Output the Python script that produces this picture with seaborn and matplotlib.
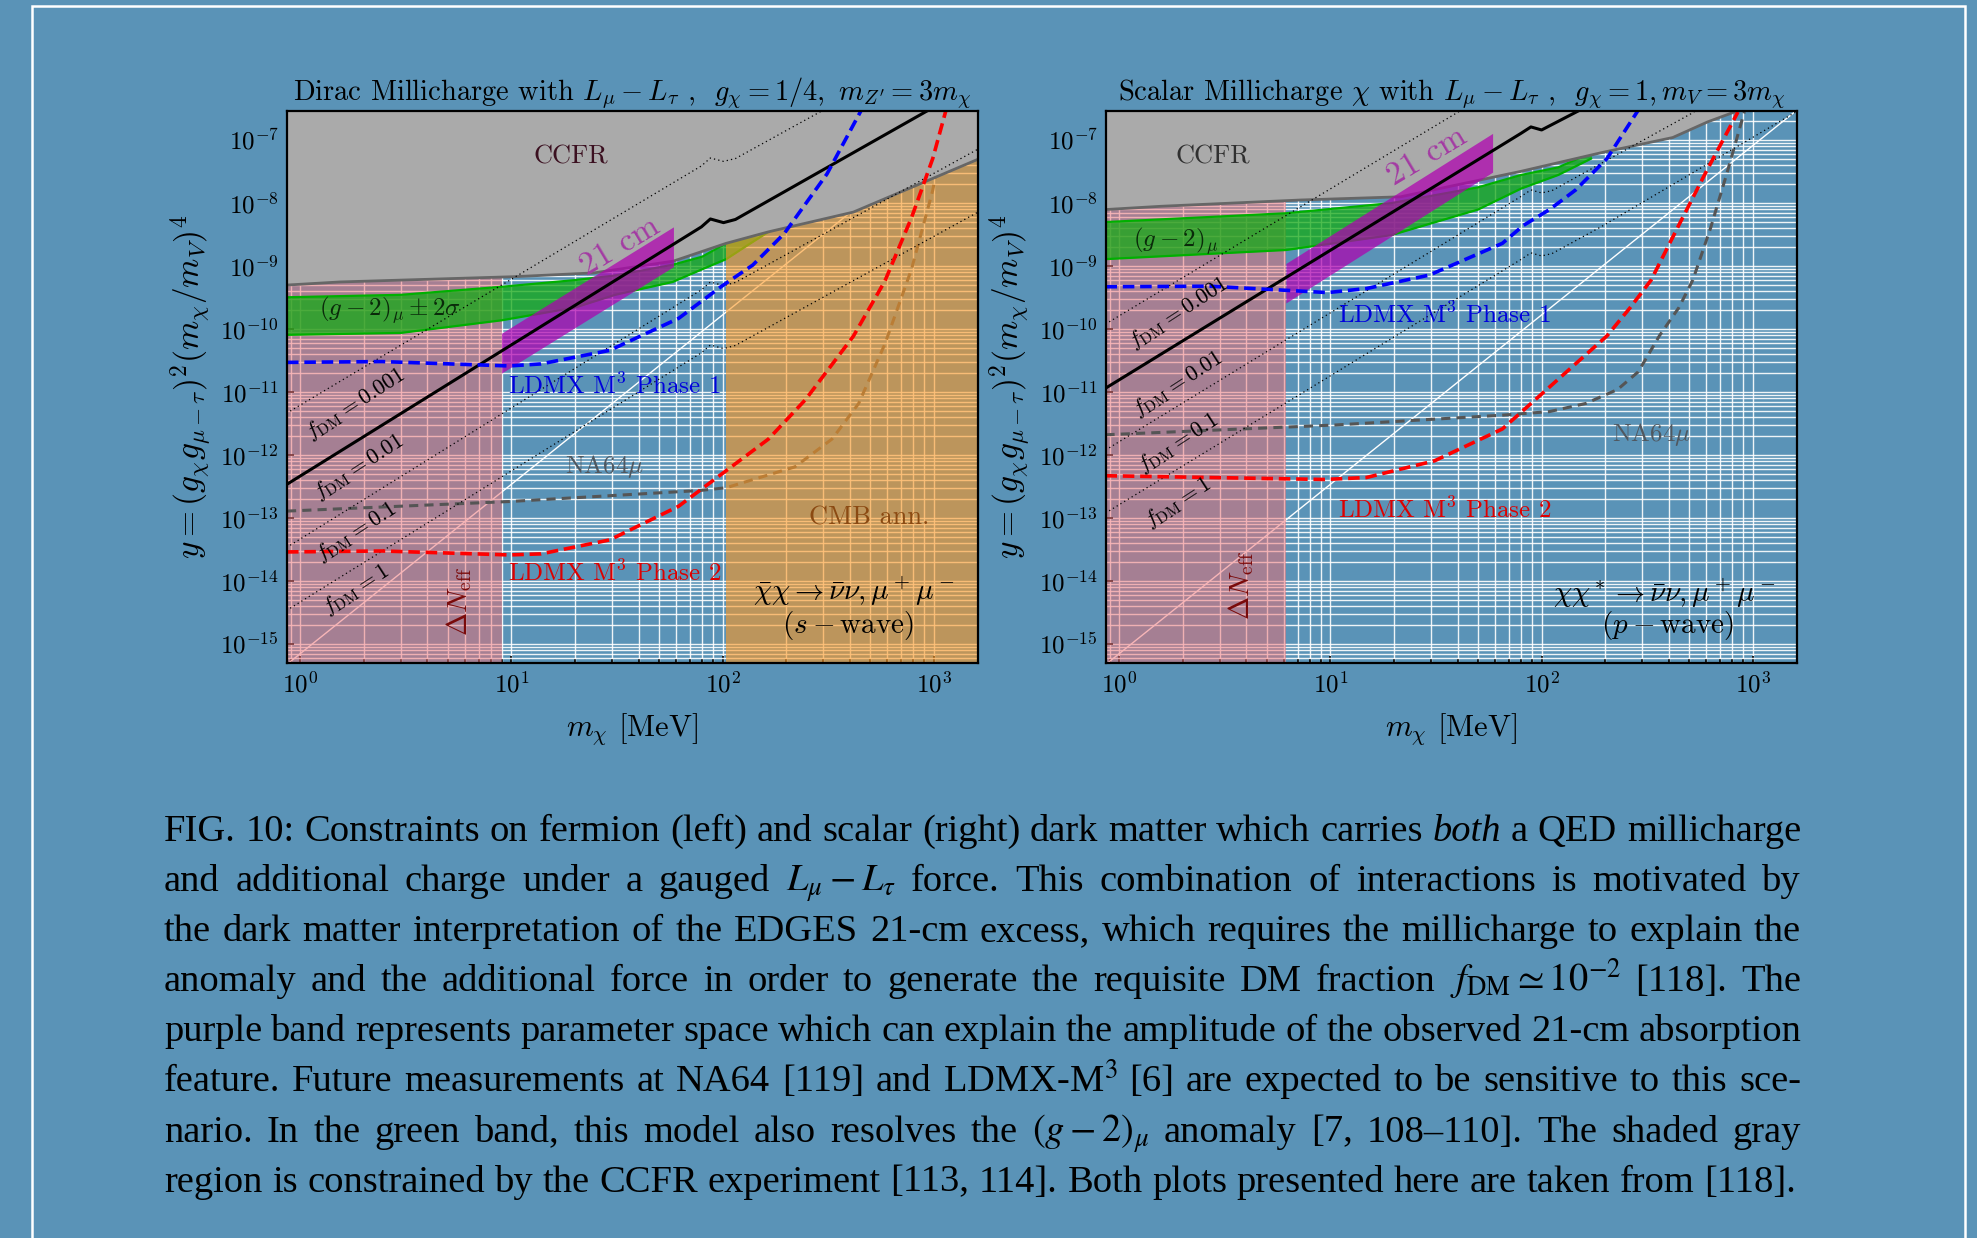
import re
import numpy as np
import pandas as pd
import matplotlib
matplotlib.use("Agg")
import matplotlib.pyplot as plt
import matplotlib.ticker as mticker
from matplotlib.patches import Rectangle
import seaborn as sns

# ---------- values (m_chi in MeV) ----------
# left panel : Dirac millicharge
dirac_ccfr_m = [0.86, 1.54, 10.4, 24.6, 58.5, 104, 165, 416, 1650]
dirac_ccfr_y = [5.0e-10, 5.6e-10, 6.8e-10, 7.8e-10, 1.2e-9, 2.3e-9, 3.5e-9, 7.2e-9, 5.1e-8]
dirac_g2_m = [0.86, 3, 9, 20, 31, 58, 80, 104, 130, 165]
dirac_g2_hi = [3.2e-10, 3.5e-10, 4.7e-10, 6.0e-10, 7.1e-10, 1.05e-9, 1.41e-9, 2.3e-9, 3.2e-9, 5.0e-9]
dirac_g2_lo = [8.1e-11, 8.7e-11, 1.38e-10, 2.2e-10, 3.5e-10, 5.6e-10, 8.9e-10, 1.29e-9, 2.1e-9, 3.5e-9]
dirac_21cm_m = [8.97, 58.5]
dirac_21cm_hi = [8.6e-11, 4.2e-9]
dirac_21cm_lo = [2.0e-11, 9.8e-10]
dirac_dneff_max = 9.0
dirac_cmb_min = 104
dirac_relic_m = [0.86, 79.4, 87.5, 101, 115, 1100]
dirac_relic_y = [3.4e-13, 4.2e-9, 5.6e-9, 4.9e-9, 5.5e-9, 4.0e-7]
dirac_f0001_y = [4.6e-12, 3.9e-8, 5.2e-8, 4.6e-8, 5.1e-8, 3.0e-7]
dirac_f0001_m = [0.86, 79.4, 87.5, 101, 115, 300]
dirac_f01_m = [0.86, 79.4, 87.5, 101, 115, 1620]
dirac_f01_y = [3.4e-14, 4.2e-10, 5.6e-10, 4.9e-10, 5.5e-10, 7.2e-8]
dirac_f1_y = [3.4e-15, 4.2e-11, 5.6e-11, 4.9e-11, 5.5e-11, 7.2e-9]
dirac_ldmx1_m = [0.865, 2.44, 9.77, 13.8, 29.2, 61.9, 98.2, 139, 196, 312, 454]
dirac_ldmx1_y = [2.96e-11, 3.05e-11, 2.6e-11, 2.8e-11, 4.6e-11, 1.48e-10, 4.7e-10, 1.04e-9, 3.3e-9, 2.9e-8, 3.0e-7]
dirac_ldmx2_m = [0.865, 2.44, 9.77, 13.8, 29.2, 61.9, 98.2, 165, 247, 416, 587, 785, 989, 1143]
dirac_ldmx2_y = [2.9e-14, 3.0e-14, 2.6e-14, 2.7e-14, 4.5e-14, 1.54e-13, 4.9e-13, 1.8e-12, 7.6e-12, 7.7e-11,
                 5.8e-10, 5.9e-9, 5.1e-8, 3.0e-7]
dirac_na64_m = [0.865, 9.77, 78, 104, 220, 330, 441, 587, 785, 989, 1175]
dirac_na64_y = [1.29e-13, 1.83e-13, 2.74e-13, 3.03e-13, 6.5e-13, 1.8e-12, 6.6e-12, 5.8e-11, 9.0e-10, 1.6e-8, 3.0e-7]

# right panel : scalar millicharge
scalar_ccfr_m = [0.86, 1.57, 7.2, 21.5, 80, 191, 418, 612, 820, 1000]
scalar_ccfr_y = [7.9e-9, 8.9e-9, 1.12e-8, 1.26e-8, 3.2e-8, 6.3e-8, 1.1e-7, 1.95e-7, 2.8e-7, 1e-6]
scalar_g2_m = [0.86, 6.15, 19.4, 50, 80, 120, 172]
scalar_g2_hi = [5.0e-9, 6.9e-9, 1.0e-8, 1.78e-8, 2.8e-8, 3.7e-8, 6.3e-8]
scalar_g2_lo = [1.29e-9, 1.8e-9, 3.1e-9, 7.9e-9, 1.7e-8, 2.8e-8, 5.1e-8]
scalar_21cm_m = [6.15, 58.6]
scalar_21cm_hi = [1.1e-9, 1.28e-7]
scalar_21cm_lo = [2.6e-10, 3.1e-8]
scalar_dneff_max = 6.15
scalar_relic_m = [0.86, 79.8, 89, 100, 166]
scalar_relic_y = [1.15e-11, 1.28e-7, 1.62e-7, 1.45e-7, 3.5e-7]
scalar_f0001_m = [0.86, 41.7]
scalar_f0001_y = [1.2e-10, 3.0e-7]
scalar_f01_m = [0.86, 79.4, 89, 100, 112, 528]
scalar_f01_y = [1.2e-12, 1.26e-8, 1.62e-8, 1.45e-8, 1.58e-8, 2.8e-7]
scalar_f1_m = [0.86, 79.4, 89, 100, 112, 191, 1600]
scalar_f1_y = [1.2e-13, 1.26e-9, 1.62e-9, 1.45e-9, 1.58e-9, 4.2e-9, 2.8e-7]
scalar_ldmx1_m = [0.86, 2.68, 9.7, 14.8, 29.4, 65.2, 81.8, 109, 145, 204, 287]
scalar_ldmx1_y = [4.7e-10, 4.8e-10, 3.8e-10, 4.4e-10, 7.2e-10, 2.3e-9, 4.4e-9, 7.9e-9, 1.62e-8, 5.1e-8, 3.0e-7]
scalar_ldmx2_m = [0.86, 9.4, 14.8, 31.1, 65.2, 204, 263, 330, 447, 603, 851]
scalar_ldmx2_y = [4.7e-13, 4.1e-13, 4.4e-13, 8.1e-13, 2.6e-12, 7.8e-11, 2.2e-10, 6.0e-10, 4.5e-9, 3.2e-8, 2.8e-7]
scalar_na64_m = [0.86, 10.5, 65.2, 109, 162, 229, 287, 361, 447, 520, 631, 759, 912]
scalar_na64_y = [2.1e-12, 3.0e-12, 4.3e-12, 4.9e-12, 6.6e-12, 1.1e-11, 2.1e-11, 7.8e-11, 2.2e-10, 6.0e-10,
                 4.0e-9, 3.2e-8, 2.8e-7]

# thin white diagonal (same in both panels)
diag_m = [0.86, 1620]
diag_y = [4.7e-16, 3.0e-7]

caption = [
    r"FIG. 10: Constraints on fermion (left) and scalar (right) dark matter which carries *both* a QED millicharge",
    r"and additional charge under a gauged $L_\mu - L_\tau$ force. This combination of interactions is motivated by",
    r"the dark matter interpretation of the EDGES 21-cm excess, which requires the millicharge to explain the",
    r"anomaly and the additional force in order to generate the requisite DM fraction $f_{\rm DM} \simeq 10^{-2}$ [118]. The",
    r"purple band represents parameter space which can explain the amplitude of the observed 21-cm absorption",
    r"feature. Future measurements at NA64 [119] and LDMX-M$^3$ [6] are expected to be sensitive to this sce-",
    r"nario. In the green band, this model also resolves the $(g-2)_\mu$ anomaly [7, 108–110]. The shaded gray",
    r"region is constrained by the CCFR experiment [113, 114]. Both plots presented here are taken from [118].",
]

BG = "#5a93b7"
PINK = "#f06d71"
ORANGE = "#ff9820"
W, H = 1977, 1238

sns.set_style("ticks")
plt.rcParams.update({
    "font.family": "cmr10",
    "mathtext.fontset": "cm",
    "axes.formatter.use_mathtext": True,
    "axes.unicode_minus": False,
    "text.color": "black",
    "axes.labelcolor": "black",
    "xtick.color": "black",
    "ytick.color": "black",
})

fig = plt.figure(figsize=(W / 100, H / 100), dpi=100, facecolor=BG)


def box(x0, y0, x1, y1):
    return [x0 / W, 1 - y1 / H, (x1 - x0) / W, (y1 - y0) / H]


axL = fig.add_axes(box(287, 111, 978, 663))
axR = fig.add_axes(box(1106, 111, 1797, 663))


def line(ax, m, y, **kw):
    d = pd.DataFrame({"m": m, "y": y})
    sns.lineplot(data=d, x="m", y="y", ax=ax, sort=False, estimator=None, **kw)


def setup(ax):
    ax.set_facecolor("none")
    ax.set_xscale("log")
    ax.set_yscale("log")
    ax.set_xlim(0.865, 1620)
    ax.set_ylim(5e-16, 2.9e-7)


def finish(ax, title):
    ax.set_xlim(0.865, 1620)
    ax.set_ylim(5e-16, 2.9e-7)
    ax.yaxis.set_major_locator(mticker.LogLocator(10, numticks=30))
    ax.yaxis.set_minor_locator(mticker.LogLocator(10, subs=np.arange(2, 10), numticks=30))
    ax.yaxis.set_minor_formatter(mticker.NullFormatter())
    ax.xaxis.set_minor_locator(mticker.LogLocator(10, subs=np.arange(2, 10), numticks=30))
    ax.xaxis.set_minor_formatter(mticker.NullFormatter())
    ax.set_axisbelow(True)
    ax.grid(True, which="both", color="white", lw=1.0, alpha=0.9)
    ax.tick_params(which="both", direction="in", top=False, right=False, labelsize=18, width=1.2)
    ax.tick_params(which="major", length=5, pad=6)
    ax.tick_params(axis="y", which="minor", length=0)
    ax.tick_params(axis="x", which="minor", length=3)
    for s in ax.spines.values():
        s.set_linewidth(1.6)
        s.set_color("black")
        s.set_zorder(6)
    ax.set_title(title, fontsize=20.5, pad=7)
    ax.set_xlabel(r"$m_\chi$ [MeV]", fontsize=22, labelpad=10)
    ax.set_ylabel(r"$y = (g_\chi g_{\mu-\tau})^2(m_\chi/m_V)^4$", fontsize=24, labelpad=4)


def fdm_labels(ax, pos):
    for txt, (m, y) in zip(["0.001", "0.01", "0.1", "1"], pos):
        ax.text(m, y, r"$f_{\rm DM} = " + txt + "$", fontsize=16, rotation=33,
                ha="center", va="center", rotation_mode="anchor", zorder=7)


# ---------------- left panel ----------------
ax = axL
setup(ax)
line(ax, diag_m, diag_y, color="white", lw=1.0, zorder=0.8)
ax.axvspan(0.1, dirac_dneff_max, color=PINK, alpha=0.5, lw=0, zorder=1.0)
ax.fill_between(dirac_g2_m, dirac_g2_lo, dirac_g2_hi, color="#14aa14", alpha=0.75, lw=0, zorder=1.1)
line(ax, dirac_g2_m, dirac_g2_hi, color="#00b000", lw=1.6, zorder=1.12)
line(ax, dirac_g2_m, dirac_g2_lo, color="#00b000", lw=1.6, zorder=1.12)
line(ax, dirac_na64_m, dirac_na64_y, color="#555555", lw=2.2, linestyle=(0, (3, 2)), zorder=1.15)
ax.axvspan(dirac_cmb_min, 1e5, color=ORANGE, alpha=0.6, lw=0, zorder=1.2)
ax.fill_between(dirac_ccfr_m, dirac_ccfr_y, 1e-3, color="#aaaaaa", lw=0, zorder=2)
line(ax, dirac_ccfr_m, dirac_ccfr_y, color="#666666", lw=2.0, zorder=2.1)
for yy, mm in [(dirac_f0001_y, dirac_f0001_m), (dirac_f01_y, dirac_f01_m), (dirac_f1_y, dirac_f01_m)]:
    line(ax, mm, yy, color="black", lw=0.9, linestyle=(0, (1, 2.5)), zorder=2.5)
ax.fill_between(dirac_21cm_m, dirac_21cm_lo, dirac_21cm_hi, color="#b000b0", alpha=0.72, lw=0, zorder=3)
line(ax, dirac_relic_m, dirac_relic_y, color="black", lw=2.2, zorder=3.5)
line(ax, dirac_ldmx1_m, dirac_ldmx1_y, color="#0000ff", lw=2.6, linestyle=(0, (3.2, 1.6)), zorder=4)
line(ax, dirac_ldmx2_m, dirac_ldmx2_y, color="#ff0000", lw=2.6, linestyle=(0, (3.2, 1.6)), zorder=4)

ax.text(19.0, 5.5e-8, "CCFR", fontsize=19, color="#3b1020", ha="center", va="center", zorder=7)
ax.text(2.67, 1.97e-10, r"$(g-2)_\mu \pm 2\sigma$", fontsize=18, color="#0a2a0a",
        ha="center", va="center", zorder=7)
ax.text(32.8, 2.1e-9, "21 cm", fontsize=24, color="#a33aa3", rotation=31,
        ha="center", va="center", rotation_mode="anchor", zorder=7)
ax.text(9.6, 1.26e-11, r"LDMX M$^3$ Phase 1", fontsize=18, color="#0000dd", ha="left", va="center", zorder=7)
ax.text(9.6, 1.32e-14, r"LDMX M$^3$ Phase 2", fontsize=18, color="#dd0000", ha="left", va="center", zorder=7)
ax.text(27.6, 6.5e-13, r"NA64$\mu$", fontsize=18, color="#505860", ha="center", va="center", zorder=7)
ax.text(494, 1.0e-13, "CMB ann.", fontsize=19, color="#8b4a12", ha="center", va="center", zorder=7)
ax.text(416, 6.9e-15, r"$\bar{\chi}\chi \rightarrow \bar{\nu}\nu, \mu^+\mu^-$", fontsize=21,
        ha="center", va="center", zorder=7)
ax.text(393, 2.0e-15, r"$(s-{\rm wave})$", fontsize=21, ha="center", va="center", zorder=7)
ax.text(5.65, 4.8e-15, r"$\Delta N_{\rm eff}$", fontsize=20, color="#7a0a0a", rotation=90,
        ha="center", va="center", zorder=7)
fdm_labels(ax, [(1.83, 6.6e-12), (1.89, 6.5e-13), (1.83, 6.0e-14), (1.83, 7.4e-15)])
finish(ax, r"Dirac Millicharge with $L_\mu - L_\tau$ ,  $g_\chi = 1/4,\ m_{Z^\prime} = 3m_\chi$")

# ---------------- right panel ----------------
ax = axR
setup(ax)
line(ax, diag_m, diag_y, color="white", lw=1.0, zorder=0.8)
ax.axvspan(0.1, scalar_dneff_max, color=PINK, alpha=0.5, lw=0, zorder=1.0)
ax.fill_between(scalar_g2_m, scalar_g2_lo, scalar_g2_hi, color="#14aa14", alpha=0.75, lw=0, zorder=1.1)
line(ax, scalar_g2_m, scalar_g2_hi, color="#00b000", lw=1.6, zorder=1.12)
line(ax, scalar_g2_m, scalar_g2_lo, color="#00b000", lw=1.6, zorder=1.12)
line(ax, scalar_na64_m, scalar_na64_y, color="#555555", lw=2.2, linestyle=(0, (3, 2)), zorder=1.15)
ax.fill_between(scalar_ccfr_m, scalar_ccfr_y, 1e-3, color="#aaaaaa", lw=0, zorder=2)
line(ax, scalar_ccfr_m, scalar_ccfr_y, color="#666666", lw=2.0, zorder=2.1)
for mm, yy in [(scalar_f0001_m, scalar_f0001_y), (scalar_f01_m, scalar_f01_y), (scalar_f1_m, scalar_f1_y)]:
    line(ax, mm, yy, color="black", lw=0.9, linestyle=(0, (1, 2.5)), zorder=2.5)
ax.fill_between(scalar_21cm_m, scalar_21cm_lo, scalar_21cm_hi, color="#b000b0", alpha=0.72, lw=0, zorder=3)
line(ax, scalar_relic_m, scalar_relic_y, color="black", lw=2.2, zorder=3.5)
line(ax, scalar_ldmx1_m, scalar_ldmx1_y, color="#0000ff", lw=2.6, linestyle=(0, (3.2, 1.6)), zorder=4)
line(ax, scalar_ldmx2_m, scalar_ldmx2_y, color="#ff0000", lw=2.6, linestyle=(0, (3.2, 1.6)), zorder=4)

ax.text(2.76, 5.5e-8, "CCFR", fontsize=19, color="#303030", ha="center", va="center", zorder=7)
ax.text(1.85, 2.47e-9, r"$(g-2)_\mu$", fontsize=18, color="#0a2a0a", ha="center", va="center", zorder=7)
ax.text(28.5, 5.5e-8, "21 cm", fontsize=24, color="#a33aa3", rotation=31,
        ha="center", va="center", rotation_mode="anchor", zorder=7)
ax.text(10.8, 1.7e-10, r"LDMX M$^3$ Phase 1", fontsize=18, color="#0000dd", ha="left", va="center", zorder=7)
ax.text(10.8, 1.33e-13, r"LDMX M$^3$ Phase 2", fontsize=18, color="#dd0000", ha="left", va="center", zorder=7)
ax.text(331, 2.1e-12, r"NA64$\mu$", fontsize=18, color="#505860", ha="center", va="center", zorder=7)
ax.text(382, 6.5e-15, r"$\chi\chi^* \rightarrow \bar{\nu}\nu, \mu^+\mu^-$", fontsize=21,
        ha="center", va="center", zorder=7)
ax.text(393, 2.0e-15, r"$(p-{\rm wave})$", fontsize=21, ha="center", va="center", zorder=7)
ax.text(3.77, 8.5e-15, r"$\Delta N_{\rm eff}$", fontsize=20, color="#7a0a0a", rotation=90,
        ha="center", va="center", zorder=7)
fdm_labels(ax, [(1.9, 1.83e-10), (1.9, 1.36e-11), (1.9, 1.55e-12), (1.9, 1.78e-13)])
finish(ax, r"Scalar Millicharge $\chi$ with $L_\mu - L_\tau$ ,  $g_\chi = 1, m_V = 3m_\chi$")

# slide frame
fig.add_artist(Rectangle((32 / W, -0.05), (1965 - 32) / W, 1.05 - 6 / H, transform=fig.transFigure,
                         fill=False, edgecolor="white", lw=1.8))

# justified caption (last line set ragged)
r = fig.canvas.get_renderer()
x0, x1 = 164, 1801
CAP = 27.7
for i, ln in enumerate(caption):
    yb = 840.7 + 50.14 * i
    toks = re.findall(r"\$[^$]*\$\S*|\S+", ln)
    arts = []
    for t in toks:
        st = "normal"
        if t.startswith("*") and t.endswith("*"):
            t, st = t[1:-1], "italic"
        arts.append(fig.text(0, 1 - yb / H, t, fontsize=CAP, family=["Liberation Serif", "DejaVu Serif"],
                             style=st, color="black", math_fontfamily="stix", ha="left", va="baseline"))
    ws = [a.get_window_extent(r).width for a in arts]
    if i == len(caption) - 1:
        gap = 0.25 * CAP * 100 / 72
    else:
        gap = (x1 - x0 - sum(ws)) / (len(ws) - 1)
    x = x0
    for a, w in zip(arts, ws):
        a.set_x(x / W)
        x += w + gap

fig.savefig("out.png", dpi=100, facecolor=BG)
